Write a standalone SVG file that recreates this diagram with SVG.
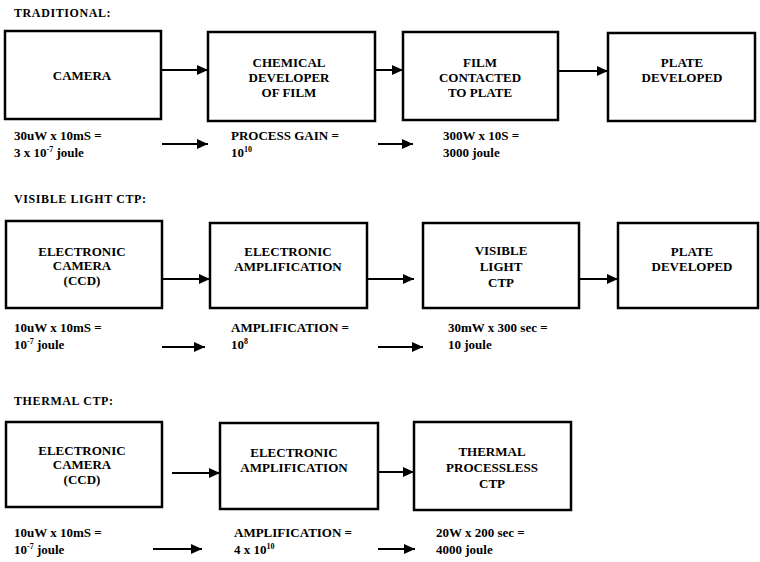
<svg xmlns="http://www.w3.org/2000/svg" width="760" height="562" viewBox="0 0 760 562">
<defs>
<marker id="ah" markerUnits="userSpaceOnUse" markerWidth="12" markerHeight="10" refX="11" refY="5" orient="auto">
<path d="M0,0 L11,5 L0,10 Z" fill="#000"/>
</marker>
<style>
.box{fill:#fff;stroke:#000;stroke-width:2.5}
.lbl{font-family:"Liberation Serif",serif;font-weight:bold;font-size:13px;fill:#000;text-anchor:middle}
.sub{font-family:"Liberation Serif",serif;font-weight:bold;font-size:13px;fill:#000}
.ttl{font-family:"Liberation Serif",serif;font-weight:bold;font-size:12px;letter-spacing:0.6px;fill:#000}
.sup{font-size:8px}
.conn line{stroke:#000;stroke-width:2;marker-end:url(#ah)}
</style>
</defs>
<rect width="760" height="562" fill="#fff"/>

<text class="ttl" x="14" y="17">TRADITIONAL:</text>
<text class="ttl" x="14" y="203">VISIBLE LIGHT CTP:</text>
<text class="ttl" x="14" y="405">THERMAL CTP:</text>

<!-- Row 1 -->
<g id="camera">
<rect class="box" x="5" y="31" width="156" height="88"/>
<text class="lbl" x="82" y="80">CAMERA</text>
</g>
<g id="chemical-developer">
<rect class="box" x="208" y="32" width="167" height="89"/>
<text class="lbl" x="289" y="67">CHEMICAL</text>
<text class="lbl" x="289" y="82">DEVELOPER</text>
<text class="lbl" x="289" y="97">OF FILM</text>
</g>
<g id="film-contacted">
<rect class="box" x="403" y="32" width="155" height="88"/>
<text class="lbl" x="480" y="67">FILM</text>
<text class="lbl" x="480" y="82">CONTACTED</text>
<text class="lbl" x="480" y="97">TO PLATE</text>
</g>
<g id="plate-developed-1">
<rect class="box" x="608" y="33" width="147" height="88"/>
<text class="lbl" x="682" y="67">PLATE</text>
<text class="lbl" x="682" y="82">DEVELOPED</text>
</g>
<g id="r1-energy">
<text class="sub" x="14" y="140">30uW x 10mS =</text>
<text class="sub" x="14" y="157">3 x 10<tspan class="sup" dy="-5">-7</tspan><tspan dy="5"> joule</tspan></text>
</g>
<g id="r1-gain">
<text class="sub" x="231" y="140">PROCESS GAIN =</text>
<text class="sub" x="231" y="157">10<tspan class="sup" dy="-5">10</tspan></text>
</g>
<g id="r1-result">
<text class="sub" x="443" y="140">300W x 10S =</text>
<text class="sub" x="443" y="157">3000 joule</text>
</g>

<!-- Row 2 -->
<g id="electronic-camera-2">
<rect class="box" x="6" y="221" width="156" height="87"/>
<text class="lbl" x="82" y="256">ELECTRONIC</text>
<text class="lbl" x="82" y="270">CAMERA</text>
<text class="lbl" x="82" y="285">(CCD)</text>
</g>
<g id="electronic-amplification-2">
<rect class="box" x="210" y="223" width="157" height="85"/>
<text class="lbl" x="288" y="256">ELECTRONIC</text>
<text class="lbl" x="288" y="271">AMPLIFICATION</text>
</g>
<g id="visible-light-ctp">
<rect class="box" x="423" y="223" width="156" height="85"/>
<text class="lbl" x="501" y="255">VISIBLE</text>
<text class="lbl" x="501" y="271">LIGHT</text>
<text class="lbl" x="501" y="287">CTP</text>
</g>
<g id="plate-developed-2">
<rect class="box" x="618" y="223" width="140" height="85"/>
<text class="lbl" x="692" y="256">PLATE</text>
<text class="lbl" x="692" y="271">DEVELOPED</text>
</g>
<g id="r2-energy">
<text class="sub" x="14" y="332">10uW x 10mS =</text>
<text class="sub" x="14" y="349">10<tspan class="sup" dy="-5">-7</tspan><tspan dy="5"> joule</tspan></text>
</g>
<g id="r2-gain">
<text class="sub" x="231" y="332">AMPLIFICATION =</text>
<text class="sub" x="231" y="349">10<tspan class="sup" dy="-5">8</tspan></text>
</g>
<g id="r2-result">
<text class="sub" x="448" y="332">30mW x 300 sec =</text>
<text class="sub" x="448" y="349">10 joule</text>
</g>

<!-- Row 3 -->
<g id="electronic-camera-3">
<rect class="box" x="6" y="422" width="156" height="85"/>
<text class="lbl" x="82" y="455">ELECTRONIC</text>
<text class="lbl" x="82" y="469">CAMERA</text>
<text class="lbl" x="82" y="484">(CCD)</text>
</g>
<g id="electronic-amplification-3">
<rect class="box" x="220" y="423" width="158" height="86"/>
<text class="lbl" x="294" y="457">ELECTRONIC</text>
<text class="lbl" x="294" y="472">AMPLIFICATION</text>
</g>
<g id="thermal-processless-ctp">
<rect class="box" x="414" y="422" width="157" height="88"/>
<text class="lbl" x="492" y="456">THERMAL</text>
<text class="lbl" x="492" y="472">PROCESSLESS</text>
<text class="lbl" x="492" y="488">CTP</text>
</g>
<g id="r3-energy">
<text class="sub" x="14" y="537">10uW x 10mS =</text>
<text class="sub" x="14" y="554">10<tspan class="sup" dy="-5">-7</tspan><tspan dy="5"> joule</tspan></text>
</g>
<g id="r3-gain">
<text class="sub" x="234" y="537">AMPLIFICATION =</text>
<text class="sub" x="234" y="554">4 x 10<tspan class="sup" dy="-5">10</tspan></text>
</g>
<g id="r3-result">
<text class="sub" x="436" y="537">20W x 200 sec =</text>
<text class="sub" x="436" y="554">4000 joule</text>
</g>

<g id="connectors" class="conn">
<line x1="161" y1="70" x2="208" y2="70"/>
<line x1="375" y1="70" x2="403" y2="70"/>
<line x1="558" y1="71" x2="608" y2="71"/>
<line x1="162" y1="144" x2="208" y2="144"/>
<line x1="378" y1="144" x2="413" y2="144"/>

<line x1="162" y1="279" x2="210" y2="279"/>
<line x1="367" y1="279" x2="414" y2="279"/>
<line x1="579" y1="279" x2="618" y2="279"/>
<line x1="162" y1="347" x2="205" y2="347"/>
<line x1="378" y1="347" x2="423" y2="347"/>

<line x1="172" y1="473" x2="220" y2="473"/>
<line x1="378" y1="472" x2="414" y2="472"/>
<line x1="153" y1="549" x2="202" y2="549"/>
<line x1="378" y1="549" x2="415" y2="549"/>
</g>
</svg>
